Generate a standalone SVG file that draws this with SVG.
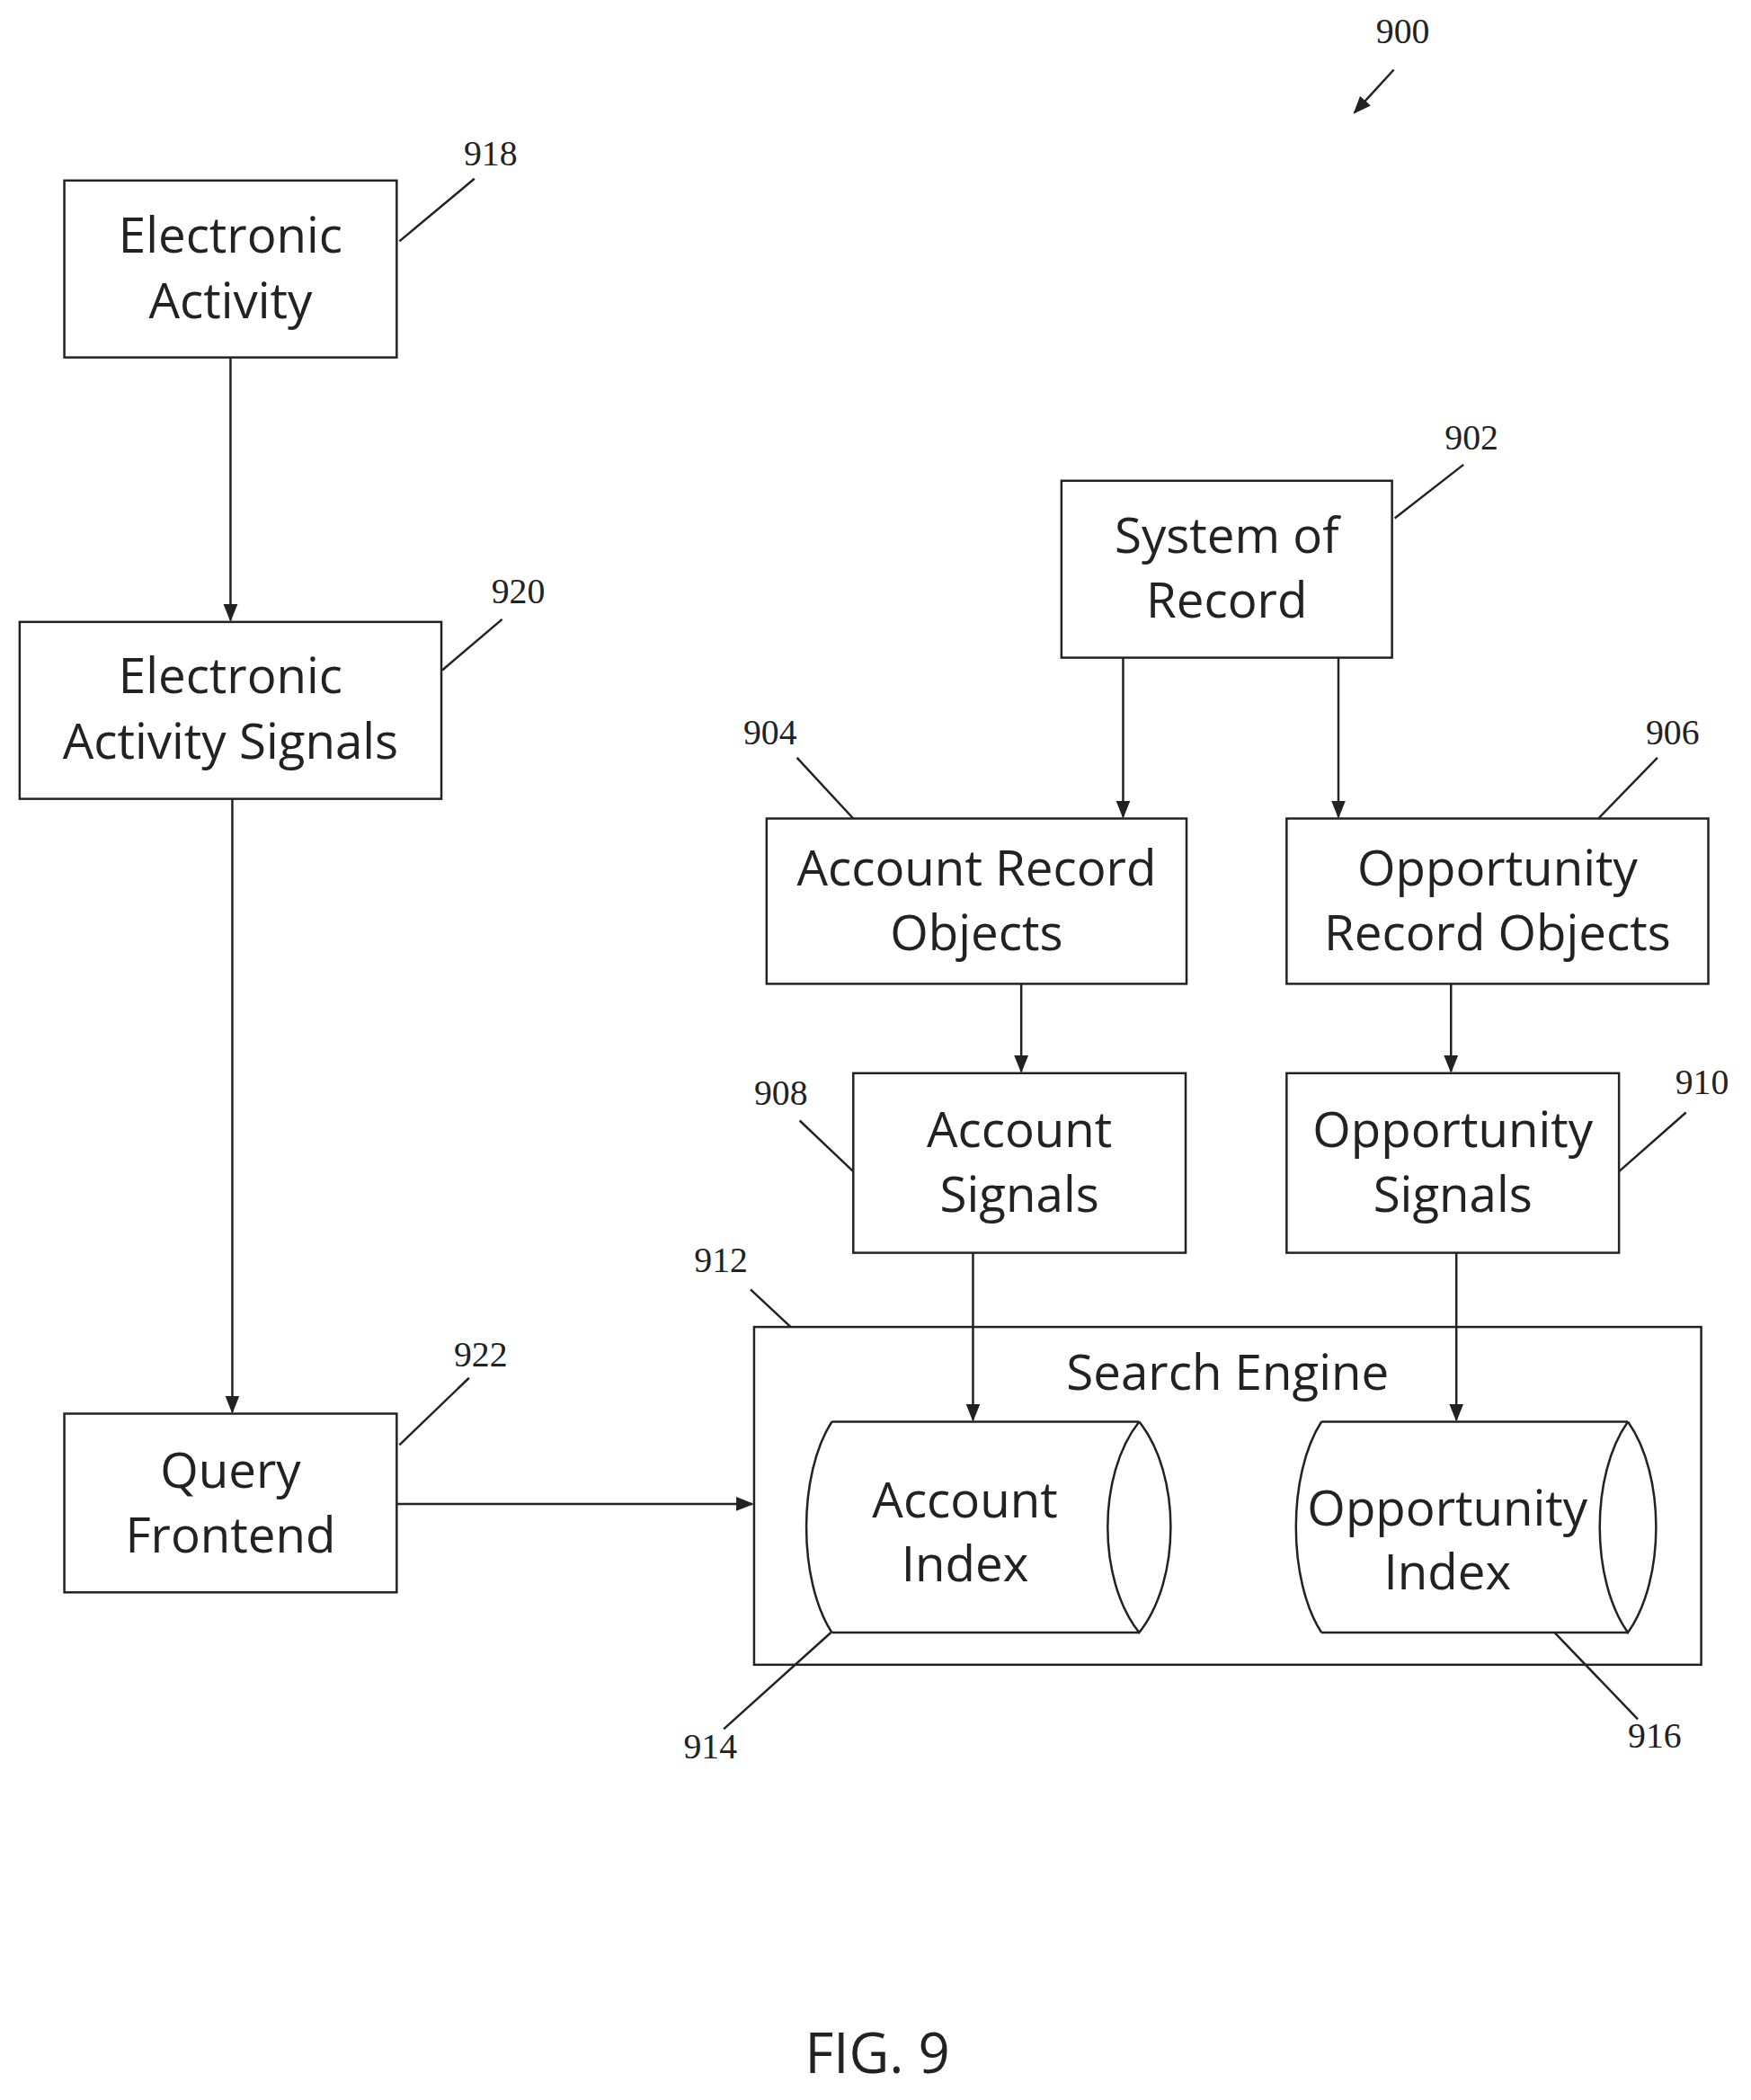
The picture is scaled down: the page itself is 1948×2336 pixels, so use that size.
<svg xmlns="http://www.w3.org/2000/svg" width="1948" height="2336" viewBox="0 0 1948 2336">
<style>
.b{fill:none;stroke:#222;stroke-width:2.5}
.t{font-family:"Open Sans","Noto Sans",sans-serif;font-size:55px;fill:#222;text-anchor:middle}
.n{font-family:"Liberation Serif",serif;font-size:40px;fill:#222;text-anchor:middle}
.l{stroke:#222;stroke-width:2.5;fill:none}
.a{stroke:#222;stroke-width:2.5;fill:none;marker-end:url(#ah2)}
</style>
<defs>
<marker id="ah2" markerWidth="20" markerHeight="20" refX="18" refY="10" orient="auto" markerUnits="userSpaceOnUse"><path d="M0,2 L20,10 L0,18 z" fill="#222"/></marker></defs>
<rect width="1948" height="2336" fill="#fff"/>
<g transform="scale(0.994)">
<g id="n900"><text class="n" x="1570" y="48">900</text></g>
<g id="n918"><rect class="b" x="72" y="202" width="372" height="198"/><text class="t" x="258" y="283">Electronic</text><text class="t" x="258" y="356">Activity</text><text class="n" x="549" y="185">918</text></g>
<g id="n920"><rect class="b" x="22" y="696" width="472" height="198"/><text class="t" x="258" y="776">Electronic</text><text class="t" x="258" y="849">Activity Signals</text><text class="n" x="580" y="675">920</text></g>
<g id="n922"><rect class="b" x="72" y="1582" width="372" height="200"/><text class="t" x="258" y="1665">Query</text><text class="t" x="258" y="1737">Frontend</text><text class="n" x="538" y="1529">922</text></g>
<g id="n902"><rect class="b" x="1188" y="538" width="370" height="198"/><text class="t" x="1373" y="619">System of</text><text class="t" x="1373" y="691">Record</text><text class="n" x="1647" y="503">902</text></g>
<g id="n904"><rect class="b" x="858" y="916" width="470" height="185"/><text class="t" x="1093" y="991">Account Record</text><text class="t" x="1093" y="1063">Objects</text><text class="n" x="862" y="833">904</text></g>
<g id="n906"><rect class="b" x="1440" y="916" width="472" height="185"/><text class="t" x="1676" y="991">Opportunity</text><text class="t" x="1676" y="1063">Record Objects</text><text class="n" x="1872" y="833">906</text></g>
<g id="n908"><rect class="b" x="955" y="1201" width="372" height="201"/><text class="t" x="1141" y="1284">Account</text><text class="t" x="1141" y="1356">Signals</text><text class="n" x="874" y="1236">908</text></g>
<g id="n910"><rect class="b" x="1440" y="1201" width="372" height="201"/><text class="t" x="1626" y="1284">Opportunity</text><text class="t" x="1626" y="1356">Signals</text><text class="n" x="1905" y="1224">910</text></g>
<g id="n912"><rect class="b" x="844" y="1485" width="1060" height="378"/><text class="t" x="1374" y="1555">Search Engine</text><text class="n" x="807" y="1424">912</text></g>
<g id="n914"><path class="b" d="M931,1591 L1275,1591 M931,1827 L1275,1827 M931,1591 C893,1650 893,1768 931,1827 M1275,1591 C1322,1650 1322,1768 1275,1827 C1228,1768 1228,1650 1275,1591"/><text class="t" x="1080" y="1698">Account</text><text class="t" x="1080" y="1770">Index</text><text class="n" x="795" y="1968">914</text></g>
<g id="n916"><path class="b" d="M1479,1591 L1822,1591 M1479,1827 L1822,1827 M1479,1591 C1441,1650 1441,1768 1479,1827 M1822,1591 C1864,1650 1864,1768 1822,1827 C1780,1768 1780,1650 1822,1591"/><text class="t" x="1620" y="1707">Opportunity</text><text class="t" x="1620" y="1779">Index</text><text class="n" x="1852" y="1956">916</text></g>
<g id="connectors">
<path class="a" d="M258,400 V694"/>
<path class="a" d="M260,894 V1580"/>
<path class="a" d="M444,1683 H842"/>
<path class="a" d="M1257,736 V914"/>
<path class="a" d="M1498,736 V914"/>
<path class="a" d="M1143,1101 V1199"/>
<path class="a" d="M1624,1101 V1199"/>
<path class="a" d="M1089,1402 V1589"/>
<path class="a" d="M1630,1402 V1589"/>
<path class="a" d="M1560,78 L1516,126"/>
<path class="l" d="M447,270 L531,200"/>
<path class="l" d="M495,750 L562,693"/>
<path class="l" d="M447,1617 L525,1542"/>
<path class="l" d="M1561,580 L1638,520"/>
<path class="l" d="M955,916 L892,848"/>
<path class="l" d="M1789,916 L1855,848"/>
<path class="l" d="M955,1311 L895,1254"/>
<path class="l" d="M1812,1311 L1887,1245"/>
<path class="l" d="M885,1485 L840,1443"/>
<path class="l" d="M930,1827 L810,1935"/>
<path class="l" d="M1740,1827 L1833,1924"/>
</g>
<text x="982" y="2320" style="font-family:'Open Sans','Noto Sans',sans-serif;font-size:62px;fill:#222;text-anchor:middle">FIG. 9</text>
</g>
</svg>
